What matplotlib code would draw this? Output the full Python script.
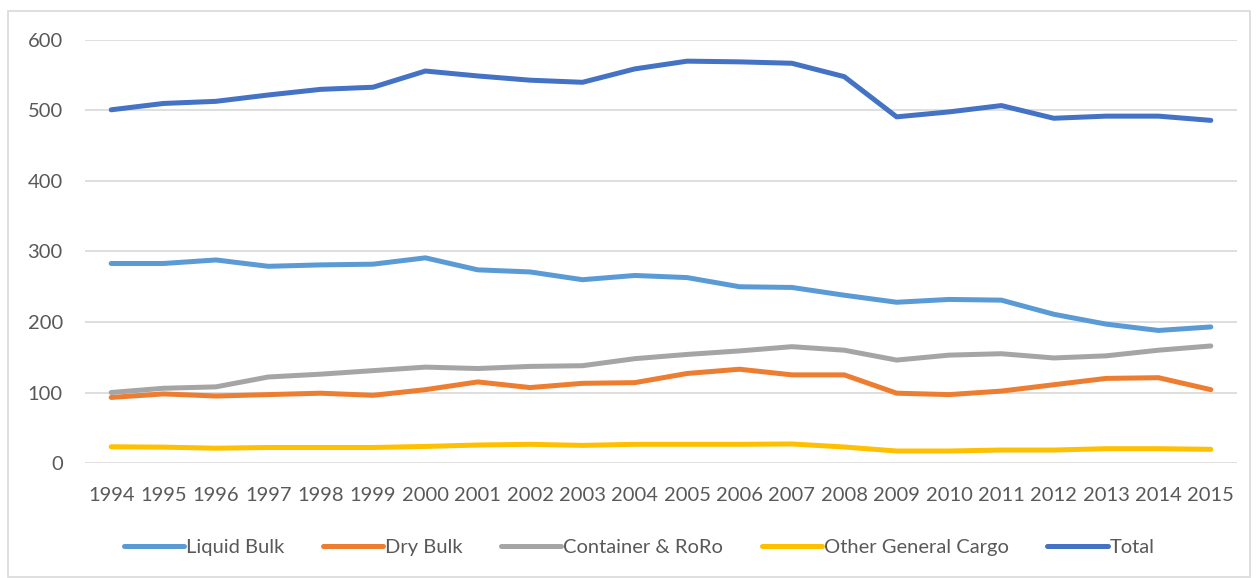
import matplotlib
matplotlib.use("Agg")
import matplotlib.pyplot as plt
from matplotlib.patches import Rectangle

years = list(range(1994, 2016))
liquid_bulk = [283, 283, 288, 279, 281, 282, 291, 274, 271, 260, 266, 263,
               250, 249, 238, 228, 232, 231, 211, 197, 188, 193]
dry_bulk = [93, 98, 95, 97, 99, 96, 104, 115, 107, 113, 114, 127,
            133, 125, 125, 99, 97, 102, 111, 120, 121, 104]
container_roro = [100, 106, 108, 122, 126, 131, 136, 134, 137, 138, 148, 154,
                  159, 165, 160, 146, 153, 155, 149, 152, 160, 166]
other_general = [23, 22.5, 21, 22, 22, 22, 23.5, 25.5, 26.5, 25, 26.5, 26.5,
                 26.5, 27, 22.7, 17, 17, 18.4, 18.4, 20.3, 20.3, 19.4]
total = [501, 510, 513, 522, 530, 533, 556, 549, 543, 540, 559, 570,
         569, 567, 548, 491, 498, 507, 489, 492, 492, 486]

series = [
    ("Liquid Bulk", liquid_bulk, "#5B9BD5"),
    ("Dry Bulk", dry_bulk, "#ED7D31"),
    ("Container & RoRo", container_roro, "#A5A5A5"),
    ("Other General Cargo", other_general, "#FFC000"),
    ("Total", total, "#4472C4"),
]

plt.rcParams['font.family'] = ['Lato', 'DejaVu Sans']
text_col = "#595959"

fig = plt.figure(figsize=(12.58, 5.78), dpi=100)
ax = fig.add_axes([85 / 1258, 1 - 463 / 578, (1237 - 85) / 1258, (463 - 40) / 578])

fig.patches.append(Rectangle((8 / 1258, 1 / 578), 1242 / 1258, 566 / 578,
                             transform=fig.transFigure, fill=False,
                             edgecolor="#d9d9d9", linewidth=1.2))

for name, vals, col in series:
    ax.plot(years, vals, color=col, linewidth=3.6, label=name,
            solid_capstyle="round", solid_joinstyle="round")

ax.set_xlim(1993.5, 2015.5)
ax.set_ylim(0, 600)
ax.set_yticks(range(0, 601, 100))
ax.set_xticks(years)
ax.grid(axis="y", color="#d9d9d9", linewidth=1.2)
ax.set_axisbelow(True)
for s in ax.spines.values():
    s.set_visible(False)
ax.tick_params(length=0, labelsize=14.5, colors=text_col)
ax.tick_params(axis="y", pad=16)
ax.tick_params(axis="x", pad=17)

leg = fig.legend(loc="center", bbox_to_anchor=(0.508, 1 - 547 / 578), ncol=5,
                 frameon=False, fontsize=14.5, handlelength=3.0,
                 handletextpad=0.1, columnspacing=1.9)
for t in leg.get_texts():
    t.set_color(text_col)

fig.savefig("out.png", dpi=100)
